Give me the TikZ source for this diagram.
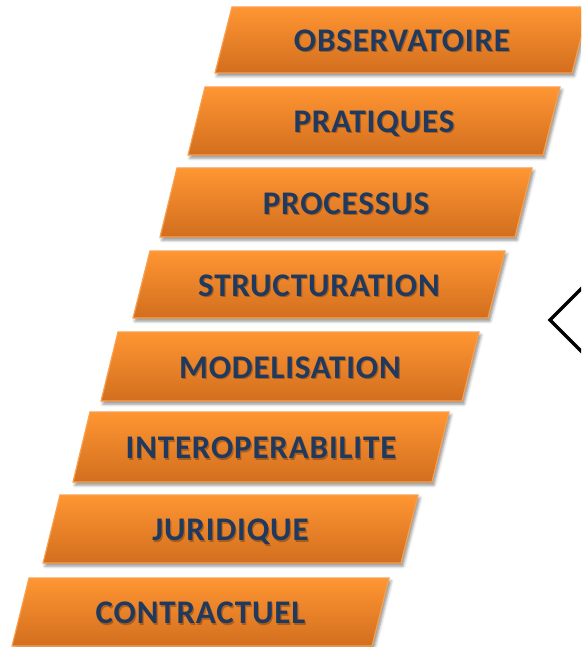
\documentclass[tikz,border=0pt]{standalone}
\usepackage{fontspec}
\setmainfont{Carlito}
\newfontfamily\boxfont[LetterSpace=2.5]{Carlito}
\usetikzlibrary{shadows.blur}
\definecolor{orTop}{HTML}{FF9633}
\definecolor{orBot}{HTML}{D26E1E}
\definecolor{orEdge}{HTML}{F9A050}
\definecolor{txtBlue}{HTML}{1F3A5E}
\tikzset{
  stepbox/.style={draw=orEdge, line width=1.2pt, top color=orTop, bottom color=orBot,
    blur shadow={shadow xshift=2pt, shadow yshift=-3pt, shadow blur radius=3pt, shadow opacity=45}},
  steplabel/.style={text=txtBlue, font=\boxfont\bfseries\fontsize{33}{33}\selectfont, inner sep=0pt,
    anchor=base},
  labelshadow/.style={text=black, opacity=0.25, font=\boxfont\bfseries\fontsize{33}{33}\selectfont, inner sep=0pt,
    anchor=base},
  chevron/.style={draw=black, line width=3.3pt, line join=miter}
}
\newcommand{\stepitem}[6]{%
  % #1 name, #2 TL x, #3 TR x, #4 top y, #5 bottom y, #6 text
  \path[stepbox] (#2,#4) -- (#3,#4) -- ({#3-17},#5) -- ({#2-17},#5) -- cycle;
  \node[labelshadow] at ({(#2+#3)/2-8.5+1.2},{(#4+#5)/2+11.5+1.5}) {#6};
  \node[steplabel] (#1) at ({(#2+#3)/2-8.5},{(#4+#5)/2+11.5}) {#6};
}
\begin{document}
\begin{tikzpicture}[x=1pt,y=-1pt]
\useasboundingbox (0,0) rectangle (581,647);
\begin{scope}
\clip (0,0) rectangle (581,647);
\stepitem{obs}{232}{589}{7}{73}{OBSERVATOIRE}
\stepitem{pra}{205}{560}{87}{155}{PRATIQUES}
\stepitem{pro}{177}{532}{168}{237}{PROCESSUS}
\stepitem{str}{150}{505}{251}{318}{STRUCTURATION}
\stepitem{mod}{118}{479}{332}{401}{MODELISATION}
\stepitem{int}{90}{449}{412}{482}{INTEROPERABILITE}
\stepitem{jur}{60}{418}{495}{563}{JURIDIQUE}
\stepitem{con}{29}{389}{578}{646}{CONTRACTUEL}
\coordinate (diaC) at (585,320);
\draw[chevron] ([xshift=36pt]diaC) -- ([yshift=35pt]diaC) -- ([xshift=-35pt]diaC) -- ([yshift=-35pt]diaC) -- cycle;
\end{scope}
\end{tikzpicture}
\end{document}
